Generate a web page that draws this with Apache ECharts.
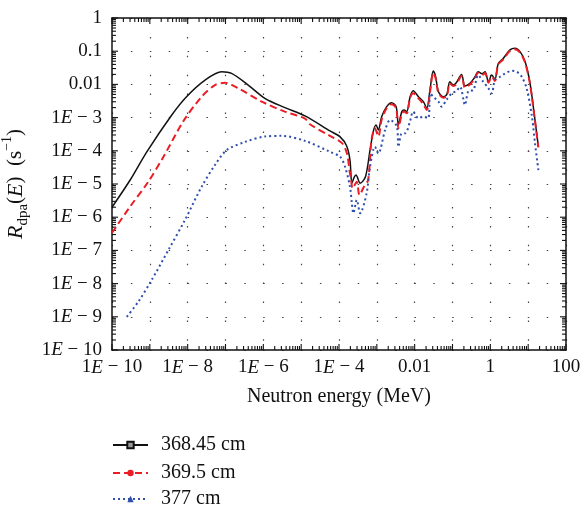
<!DOCTYPE html>
<html>
<head>
<meta charset="utf-8">
<script src="https://cdn.jsdelivr.net/npm/echarts@6/dist/echarts.min.js"></script>
<style>
  html, body { margin: 0; padding: 0; background: #fff; }
</style>
</head>
<body>
<div id="chart" style="width: 581px; height: 513px;"></div>
<script>
// values as log10 (energy in MeV, rate in 1/s)
const seriesNames = ['368.45 cm', '369.5 cm', '377 cm']

const blackLogE = [-10.00, -9.52, -9.08, -8.42, -8.03, -7.54, -7.10, -6.84, -6.40, -5.96, -5.43, -4.90, -4.24, -3.97, -3.80, -3.71, -3.66, -3.60, -3.55, -3.44, -3.30, -3.18, -3.09, -3.02, -2.96, -2.87, -2.74, -2.61, -2.49, -2.43, -2.34, -2.28, -2.21, -2.12, -2.04, -1.90, -1.77, -1.68, -1.59, -1.51, -1.45, -1.37, -1.24, -1.15, -1.07, -0.98, -0.90, -0.76, -0.67, -0.54, -0.42, -0.32, -0.22, -0.14, -0.05, 0.04, 0.12, 0.21, 0.34, 0.52, 0.65, 0.79, 0.92, 1.05, 1.18, 1.27]
const blackLogR = [-5.70, -4.88, -4.03, -2.92, -2.37, -1.87, -1.62, -1.67, -2.02, -2.42, -2.70, -2.95, -3.40, -3.58, -3.85, -4.28, -4.98, -4.80, -4.73, -4.98, -4.78, -3.98, -3.40, -3.22, -3.37, -2.97, -2.67, -2.55, -2.67, -3.22, -2.82, -2.77, -2.82, -2.37, -2.19, -2.37, -2.52, -2.72, -2.12, -1.60, -1.75, -2.22, -2.37, -2.30, -1.92, -2.02, -1.95, -1.70, -2.05, -1.97, -1.80, -1.62, -1.68, -1.62, -1.92, -1.72, -1.85, -1.37, -1.22, -0.96, -0.91, -1.02, -1.32, -1.97, -3.07, -3.88]

const redLogE = [-10.00, -9.52, -9.04, -8.64, -8.12, -7.63, -7.28, -7.01, -6.66, -6.04, -5.43, -4.90, -4.77, -4.24, -3.92, -3.79, -3.72, -3.68, -3.64, -3.53, -3.46, -3.34, -3.23, -3.14, -3.05, -2.96, -2.87, -2.74, -2.61, -2.49, -2.43, -2.34, -2.28, -2.21, -2.12, -2.04, -1.90, -1.77, -1.68, -1.59, -1.51, -1.45, -1.37, -1.24, -1.15, -1.07, -0.98, -0.90, -0.76, -0.67, -0.54, -0.42, -0.32, -0.22, -0.14, -0.05, 0.04, 0.12, 0.21, 0.34, 0.52, 0.65, 0.79, 0.92, 1.05, 1.18, 1.27]
const redLogR = [-6.47, -5.68, -4.93, -4.18, -3.12, -2.37, -2.02, -1.95, -2.12, -2.52, -2.82, -3.03, -3.20, -3.55, -3.77, -4.08, -4.60, -4.88, -5.13, -4.93, -5.33, -5.08, -4.88, -3.67, -3.32, -3.57, -3.05, -2.72, -2.60, -2.72, -3.32, -2.90, -2.82, -2.87, -2.40, -2.27, -2.42, -2.60, -2.77, -2.20, -1.65, -1.80, -2.27, -2.40, -2.35, -1.97, -2.05, -2.00, -1.75, -2.10, -2.00, -1.85, -1.65, -1.72, -1.66, -1.95, -1.76, -1.90, -1.40, -1.25, -0.99, -0.94, -1.05, -1.35, -2.00, -3.10, -3.90]

const blueLogE = [-9.61, -9.30, -8.95, -8.51, -8.07, -7.63, -7.28, -6.97, -6.48, -5.96, -5.51, -4.90, -4.24, -3.97, -3.84, -3.71, -3.66, -3.62, -3.53, -3.44, -3.27, -3.18, -3.05, -2.96, -2.78, -2.65, -2.47, -2.43, -2.34, -2.25, -2.12, -2.04, -1.90, -1.77, -1.64, -1.59, -1.51, -1.37, -1.29, -1.15, -1.02, -0.90, -0.80, -0.67, -0.58, -0.45, -0.32, -0.20, -0.05, 0.04, 0.12, 0.26, 0.39, 0.57, 0.70, 0.83, 0.96, 1.10, 1.18, 1.27]
const blueLogR = [-9.00, -8.54, -7.89, -6.99, -6.08, -5.08, -4.43, -3.98, -3.73, -3.57, -3.55, -3.70, -4.03, -4.18, -4.48, -5.08, -5.58, -5.88, -5.48, -5.88, -5.28, -4.48, -3.88, -4.08, -3.37, -3.07, -3.27, -3.88, -3.47, -3.47, -3.10, -2.82, -3.02, -2.97, -3.02, -2.27, -2.37, -2.52, -2.67, -2.45, -2.27, -2.20, -2.07, -2.62, -2.20, -2.17, -1.72, -1.90, -2.12, -2.27, -1.87, -1.77, -1.67, -1.59, -1.62, -1.77, -2.12, -2.97, -3.77, -4.58]

const xMin = 1e-10, xMax = 100
const yMin = 1e-10, yMax = 1

const serif = 'Liberation Serif'

function pairs(logE, logR) {
  return logE.map((e, i) => [Math.pow(10, e), Math.pow(10, logR[i])])
}

// tick positions of a log axis: [value, length], 10^k long, 2..9 x 10^k short
function logTicks(lo, hi) {
  const out = []
  const k0 = Math.round(Math.log10(lo))
  const k1 = Math.round(Math.log10(hi))
  for (let k = k0; k <= k1; k++) {
    out.push([Math.pow(10, k), 6])
    if (k < k1) for (let m = 2; m <= 9; m++) out.push([m * Math.pow(10, k), 4])
  }
  return out
}

function expOf(v) {
  return Math.round(Math.log10(v))
}

function xLabel(v) {
  const e = expOf(v)
  if (e % 2 !== 0) return ''
  if (e >= 0) return String(Math.pow(10, e))
  if (e === -2) return '0.01'
  return '1{i|E} − ' + (-e)
}

function yLabel(v) {
  const e = expOf(v)
  if (e === 0) return '1'
  if (e === -1) return '0.1'
  if (e === -2) return '0.01'
  return '1{i|E} − ' + (-e)
}

const labelRich = {
  i: { fontFamily: serif, fontStyle: 'italic', fontSize: 19, color: '#111' },
}

function gridLine() {
  return { show: true, lineStyle: { color: '#444', width: 1.2, type: [1.5, 17.4] } }
}

function axisLine() {
  return { show: true, onZero: false, lineStyle: { color: '#111', width: 1.5 } }
}

// inward tick marks on one side of the frame, drawn through the axes' scales
function tickSeries(side) {
  const vertical = side === 'bottom' || side === 'top'
  const ticks = vertical ? logTicks(xMin, xMax) : logTicks(yMin, yMax)
  const data = ticks.map((t) => {
    if (side === 'bottom') return [t[0], yMin, t[1]]
    if (side === 'top') return [t[0], yMax, t[1]]
    if (side === 'left') return [xMin, t[0], t[1]]
    return [xMax, t[0], t[1]]
  })
  return {
    type: 'custom',
    data: data,
    renderItem: (params, api) => {
      const p = api.coord([api.value(0), api.value(1)])
      const len = api.value(2)
      let shape
      if (side === 'bottom') shape = { x1: p[0], y1: p[1], x2: p[0], y2: p[1] - len }
      else if (side === 'top') shape = { x1: p[0], y1: p[1], x2: p[0], y2: p[1] + len }
      else if (side === 'left') shape = { x1: p[0], y1: p[1], x2: p[0] + len, y2: p[1] }
      else shape = { x1: p[0], y1: p[1], x2: p[0] - len, y2: p[1] }
      return { type: 'line', shape: shape, style: { stroke: '#111', lineWidth: 1.1 } }
    },
  }
}

function legendItem(name, top) {
  return {
    orient: 'vertical',
    left: 112,
    top: top,
    padding: 0,
    itemWidth: 35,
    itemHeight: 8,
    textStyle: { fontFamily: serif, fontSize: 20, color: '#111', padding: [0, 0, 0, 8] },
    data: [name],
  }
}

function frameAxis(position, min, max) {
  return {
    type: 'log',
    min: min,
    max: max,
    interval: 1,
    position: position,
    axisLine: axisLine(),
    axisTick: { show: false },
    splitLine: { show: false },
    axisLabel: { show: false },
  }
}

const chart = echarts.init(document.getElementById('chart'))

chart.setOption({
  animation: false,
  grid: { left: 112, right: 15, top: 18, bottom: 163, outerBoundsMode: 'none' },
  legend: [
    legendItem(seriesNames[0], 435),
    legendItem(seriesNames[1], 463),
    legendItem(seriesNames[2], 489),
  ],
  xAxis: [
    {
      type: 'log',
      min: xMin,
      max: xMax,
      interval: 1,
      name: 'Neutron energy (MeV)',
      nameLocation: 'middle',
      nameGap: 37,
      nameTextStyle: { fontFamily: serif, fontSize: 20, color: '#111' },
      axisLine: axisLine(),
      axisTick: { show: false },
      splitLine: gridLine(),
      axisLabel: {
        margin: 8,
        fontFamily: serif,
        fontSize: 19,
        color: '#111',
        formatter: xLabel,
        rich: labelRich,
      },
    },
    frameAxis('top', xMin, xMax),
  ],
  yAxis: [
    {
      type: 'log',
      min: yMin,
      max: yMax,
      interval: 1,
      name: '{i|R}{sub|dpa}{n|(}{i|E}{n|)  (s}{sup|−1}{n|)}',
      nameLocation: 'middle',
      nameGap: 78,
      nameRotate: 90,
      nameTextStyle: {
        fontFamily: serif,
        fontSize: 21,
        color: '#111',
        rich: {
          i: { fontFamily: serif, fontStyle: 'italic', fontSize: 22, color: '#111', lineHeight: 30 },
          n: { fontFamily: serif, fontSize: 21, color: '#111', lineHeight: 30 },
          sub: { fontFamily: serif, fontSize: 15, color: '#111', verticalAlign: 'bottom', lineHeight: 30 },
          sup: { fontFamily: serif, fontSize: 14, color: '#111', verticalAlign: 'top', lineHeight: 30 },
        },
      },
      axisLine: axisLine(),
      axisTick: { show: false },
      splitLine: gridLine(),
      axisLabel: {
        margin: 10,
        fontFamily: serif,
        fontSize: 19,
        color: '#111',
        formatter: yLabel,
        rich: labelRich,
      },
    },
    frameAxis('right', yMin, yMax),
  ],
  series: [
    {
      name: seriesNames[0],
      type: 'line',
      data: pairs(blackLogE, blackLogR),
      smooth: 0.3,
      showSymbol: false,
      symbol: 'rect',
      symbolSize: 5,
      itemStyle: { color: '#9a9a9a', borderColor: '#111', borderWidth: 1 },
      lineStyle: { color: '#111', width: 1.5 },
    },
    {
      name: seriesNames[1],
      type: 'line',
      data: pairs(redLogE, redLogR),
      smooth: 0.3,
      showSymbol: false,
      symbol: 'circle',
      symbolSize: 6,
      itemStyle: { color: '#ec1c24' },
      lineStyle: { color: '#ec1c24', width: 2, type: [7, 4] },
    },
    {
      name: seriesNames[2],
      type: 'line',
      data: pairs(blueLogE, blueLogR),
      smooth: 0.3,
      showSymbol: false,
      symbol: 'triangle',
      symbolSize: 7,
      itemStyle: { color: '#2f4eae' },
      lineStyle: { color: '#2f4eae', width: 2, type: [2, 3] },
    },
    tickSeries('bottom'),
    tickSeries('top'),
    tickSeries('left'),
    tickSeries('right'),
  ],
})
</script>
</body>
</html>
